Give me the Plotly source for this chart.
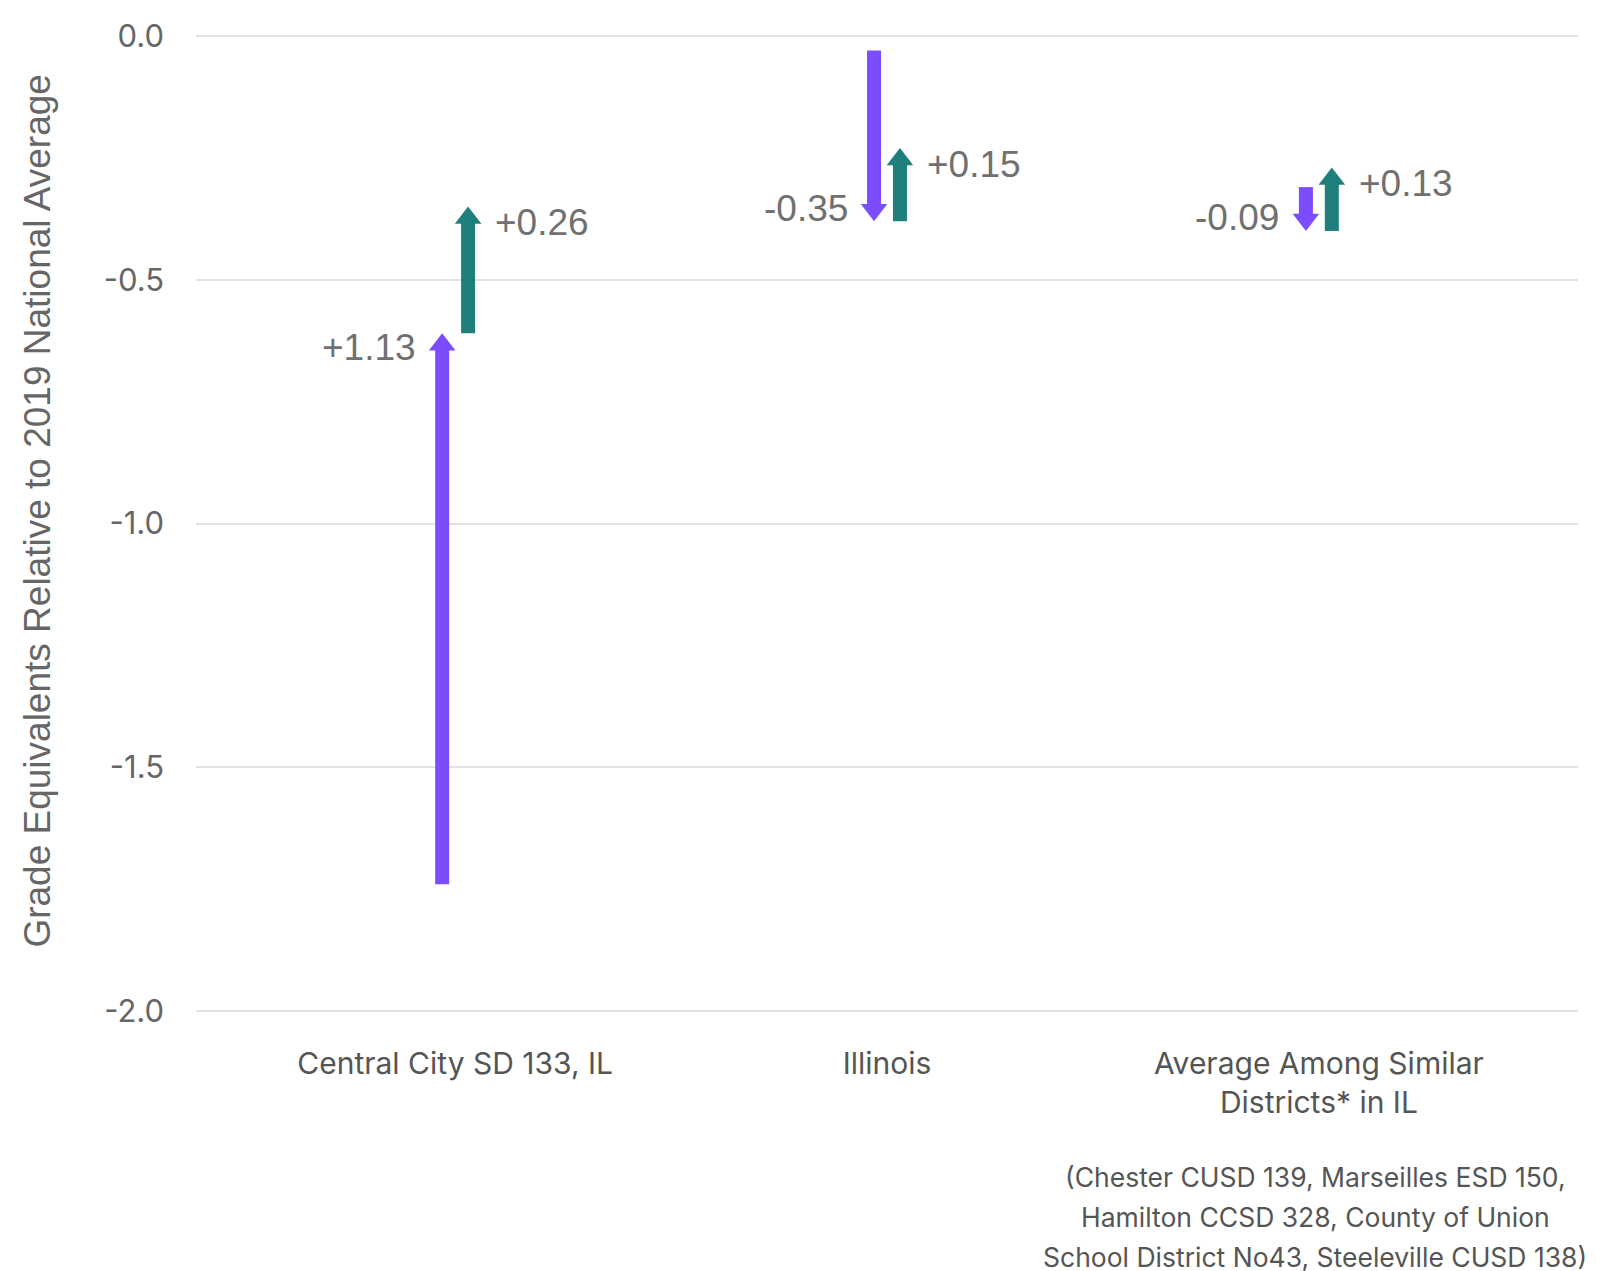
import plotly.graph_objects as go

# ---------------- data ----------------
categories = ["Central City SD 133, IL", "Illinois", "Average Among Similar<br>Districts* in IL"]
start_level = [-1.74, -0.03, -0.31]          # starting level (grade equivalents)
first_change = [1.13, -0.35, -0.09]          # purple arrow change
second_change = [0.26, 0.15, 0.13]           # teal arrow change
first_labels = ["+1.13", "-0.35", "-0.09"]
second_labels = ["+0.26", "+0.15", "+0.13"]
footnote_lines = ["(Chester CUSD 139, Marseilles ESD 150,",
                  "Hamilton CCSD 328, County of Union",
                  "School District No43, Steeleville CUSD 138)"]
y_ticks = [0.0, -0.5, -1.0, -1.5, -2.0]
y_title = "Grade Equivalents Relative to 2019 National Average"

# ---------------- style ----------------
PURPLE = "#7c4dff"
TEAL = "#1e7f7d"
LABEL_GREY = "#707070"
W, H = 1597, 1271
ML, MR, MT, MB = 188, 27, 26, 266
Y_RANGE = [-2.004, 0.004]
X_RANGE = [-0.6, 2.6]
plot_h = H - MT - MB
unit_per_px = (Y_RANGE[1] - Y_RANGE[0]) / plot_h
OFF = 0.03            # x offset of each arrow from category centre
SHAFT_W = 14
HEAD_SIZE = 23        # marker size -> ~26.5 px wide triangle
r = HEAD_SIZE / 2

fig = go.Figure()


def add_arrow(x, y0, y1, color):
    up = y1 > y0
    sgn = 1 if up else -1
    centre = y1 - sgn * r * unit_per_px          # marker centre so the tip sits on y1
    fig.add_trace(go.Scatter(x=[x, x], y=[y0, centre], mode="lines",
                             line=dict(color=color, width=SHAFT_W),
                             hoverinfo="skip", showlegend=False))
    fig.add_trace(go.Scatter(x=[x], y=[centre], mode="markers",
                             marker=dict(symbol="triangle-up" if up else "triangle-down",
                                         size=HEAD_SIZE, color=color,
                                         line=dict(width=0)),
                             hoverinfo="skip", showlegend=False))


annotations = []
for i, cat in enumerate(categories):
    y0 = start_level[i]
    y1 = y0 + first_change[i]
    y2 = y1 + second_change[i]
    add_arrow(i - OFF, y0, y1, PURPLE)
    add_arrow(i + OFF, y1, y2, TEAL)
    annotations.append(dict(x=i - OFF, y=y1, xref="x", yref="y", text=first_labels[i],
                            showarrow=False, xanchor="right", yanchor="middle",
                            xshift=-24.5, yshift=(-14 if first_change[i] > 0 else 13),
                            font=dict(family="Liberation Sans, Arial", size=37, color=LABEL_GREY)))
    annotations.append(dict(x=i + OFF, y=y2, xref="x", yref="y", text=second_labels[i],
                            showarrow=False, xanchor="left", yanchor="middle",
                            xshift=25, yshift=-16,
                            font=dict(family="Liberation Sans, Arial", size=37, color=LABEL_GREY)))

for k, line in enumerate(footnote_lines):
    annotations.append(dict(x=2.01, y=-0.1675 - 0.0409 * k, xref="x", yref="paper",
                            text=line, showarrow=False, xanchor="center", yanchor="middle",
                            xshift=-8,
                            font=dict(family="Inter, Noto Sans", size=26.5, color="#555555")))

annotations.append(dict(x=-0.1146, y=0.5128, xref="paper", yref="paper", text=y_title,
                        showarrow=False, textangle=-90, xanchor="center", yanchor="middle",
                        font=dict(family="Liberation Sans, Arial", size=37, color="#666666")))

fig.update_layout(
    width=W, height=H,
    margin=dict(l=ML, r=MR, t=MT, b=MB, autoexpand=False),
    plot_bgcolor="white", paper_bgcolor="white",
    showlegend=False,
    annotations=annotations,
    xaxis=dict(range=X_RANGE, tickmode="array", tickvals=list(range(len(categories))),
               ticktext=categories, showgrid=False, zeroline=False, showline=False,
               ticks="", ticklabelstandoff=30,
               tickfont=dict(family="Inter, Noto Sans", size=30, color="#555555")),
    yaxis=dict(range=Y_RANGE, tickmode="array", tickvals=y_ticks,
               ticktext=[f"{v:.1f}" for v in y_ticks],
               showgrid=True, gridcolor="#e2e2e2", gridwidth=2, zeroline=False,
               showline=False, ticks="", ticklabelstandoff=31,
               tickfont=dict(family="Inter, Noto Sans", size=31, color="#666666")),
)

fig.write_html("out.html")
